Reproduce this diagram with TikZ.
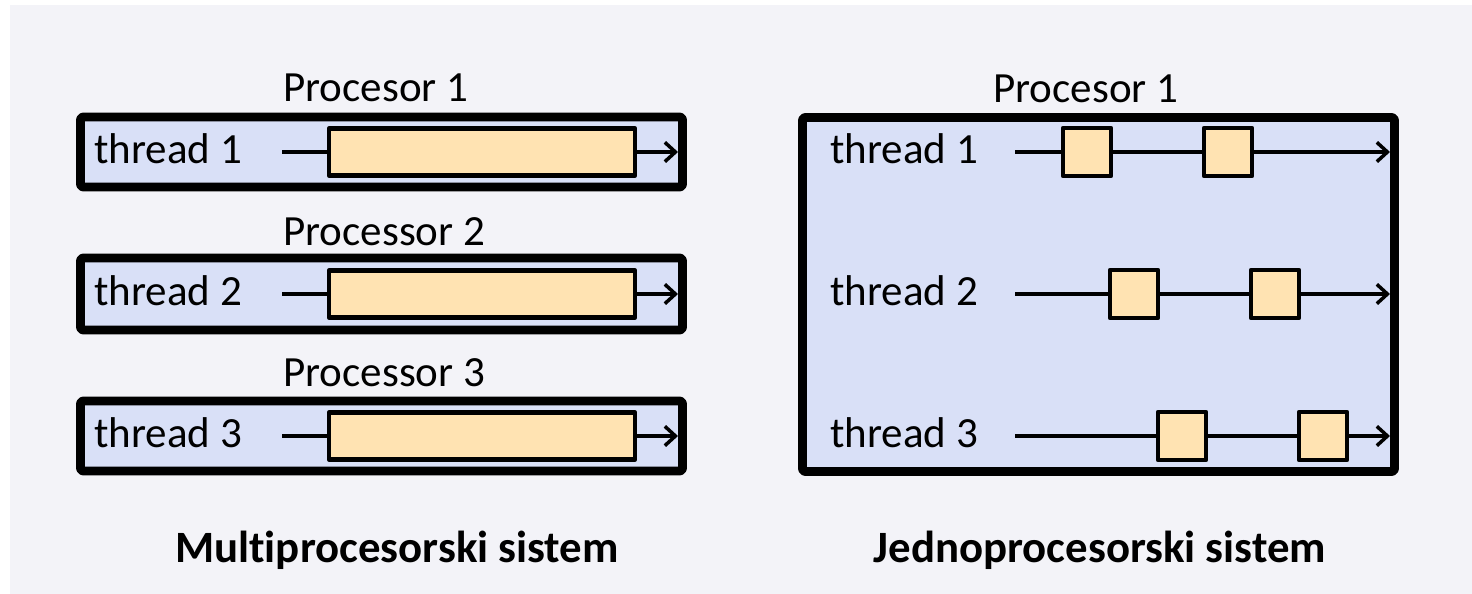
\documentclass[tikz,border=0pt]{standalone}
\usepackage{fontspec}
\setmainfont{Carlito}[Ligatures=NoCommon]
\usetikzlibrary{arrows.meta}

\definecolor{bggray}{RGB}{243,243,248}
\definecolor{procblue}{RGB}{217,224,247}
\definecolor{workorange}{RGB}{255,227,178}

\begin{document}
\begin{tikzpicture}[x=0.02cm, y=-0.02cm, line join=round,
		procbox/.style={draw=black, fill=procblue, line width=5pt, rounded corners=1.5pt},
		work/.style={draw=black, fill=workorange, line width=2.6pt, inner sep=0pt},
		run/.style={work, minimum width=6.12cm, minimum height=0.94cm},
		slice/.style={work, minimum width=0.96cm, minimum height=0.96cm},
		lbl/.style={font=\fontsize{24.5}{28}\selectfont, inner sep=0pt, anchor=base west},
		title/.style={font=\fontsize{25.5}{30}\selectfont\bfseries, inner sep=0pt, anchor=base},
		tl/.style={line width=2pt},
		tla/.style={tl, -{Straight Barb[length=6pt, width=11pt]}}]
	
	\def\ya{152}
	\def\yb{294}
	\def\yc{436}
	
	\useasboundingbox (0,0) rectangle (1472,594);
	\fill[white] (0,0) rectangle (1472,594);
	\fill[bggray] (10,5) rectangle (1472,594);
	
	% multiprocesorski: one box per processor
	\node[lbl] (p1) at (283,102) {Procesor 1};
	\node[lbl] (p2) at (283,246) {Processor 2};
	\node[lbl] (p3) at (283,387) {Processor 3};
	
	\draw[procbox] (80.5,\ya-35) rectangle (682.5,\ya+35);
	\draw[procbox] (80.5,\yb-36) rectangle (682.5,\yb+36);
	\draw[procbox] (80.5,\yc-35) rectangle (682.5,\yc+35);
	
	\node[lbl] (t1) at (94,\ya+12) {thread 1};
	\node[lbl] (t2) at (94,\yb+12) {thread 2};
	\node[lbl] (t3) at (94,\yc+12) {thread 3};
	
	\coordinate (s1) at (282,\ya);
	\coordinate (s2) at (282,\yb);
	\coordinate (s3) at (282,\yc);
	\coordinate (e1) at (678,\ya);
	\coordinate (e2) at (678,\yb);
	\coordinate (e3) at (678,\yc);
	
	\node[run] (r1) at (482,\ya) {};
	\node[run] (r2) at (482,\yb) {};
	\node[run] (r3) at (482,\yc) {};
	
	\draw[tl] (s1) -- (r1);
	\draw[tla] (r1) -- (e1);
	\draw[tl] (s2) -- (r2);
	\draw[tla] (r2) -- (e2);
	\draw[tl] (s3) -- (r3);
	\draw[tla] (r3) -- (e3);
	
	% jednoprocesorski: time slices on one processor
	\node[lbl] (pj) at (993,103) {Procesor 1};
	
	\draw[procbox] (802.5,117.5) rectangle (1394.5,471.5);
	
	\node[lbl] (u1) at (830,\ya+12) {thread 1};
	\node[lbl] (u2) at (830,\yb+12) {thread 2};
	\node[lbl] (u3) at (830,\yc+12) {thread 3};
	
	\coordinate (js1) at (1015,\ya);
	\coordinate (js2) at (1015,\yb);
	\coordinate (js3) at (1015,\yc);
	\coordinate (je1) at (1390,\ya);
	\coordinate (je2) at (1390,\yb);
	\coordinate (je3) at (1390,\yc);
	
	\node[slice] (a1) at (1087,\ya) {};
	\node[slice] (a2) at (1228,\ya) {};
	\node[slice] (b1) at (1134,\yb) {};
	\node[slice] (b2) at (1275,\yb) {};
	\node[slice] (c1) at (1182,\yc) {};
	\node[slice] (c2) at (1323,\yc) {};
	
	\draw[tl] (js1) -- (a1);
	\draw[tl] (a1) -- (a2);
	\draw[tla] (a2) -- (je1);
	\draw[tl] (js2) -- (b1);
	\draw[tl] (b1) -- (b2);
	\draw[tla] (b2) -- (je2);
	\draw[tl] (js3) -- (c1);
	\draw[tl] (c1) -- (c2);
	\draw[tla] (c2) -- (je3);
	
	\node[title] (mp) at (397,563) {Multiprocesorski sistem};
	\node[title] (jp) at (1100,563) {Jednoprocesorski sistem};
	
\end{tikzpicture}
\end{document}
